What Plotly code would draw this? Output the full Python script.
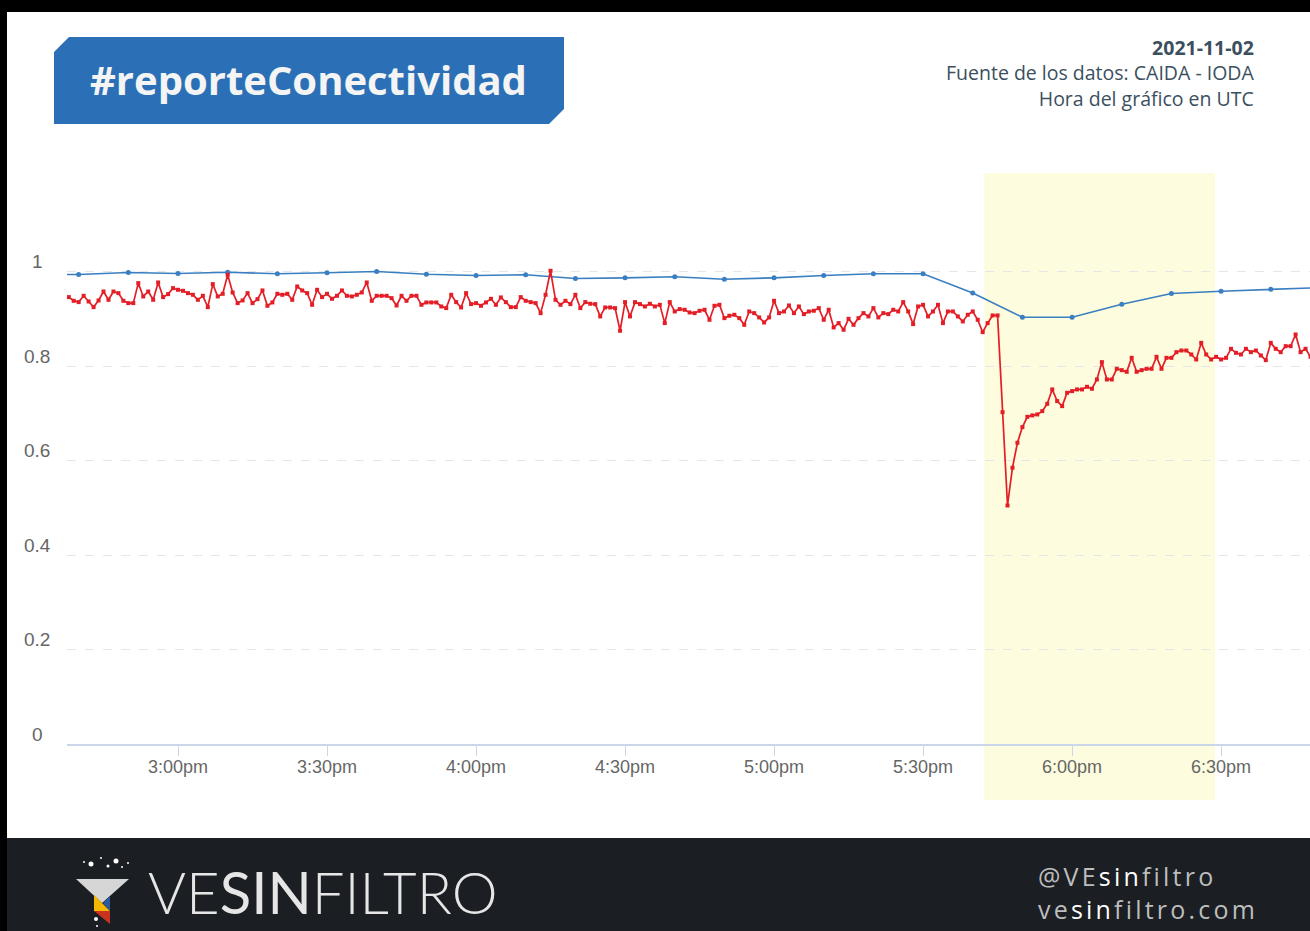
import plotly.graph_objects as go
import pandas as pd

# ---------------- data ----------------
report_date = "2021-11-02"
red_start = "2021-11-02 14:38"   # one point per minute
blue_start = "2021-11-02 14:30"  # one point every 10 minutes

red_values = [
    0.9458, 0.9380, 0.9352, 0.9486, 0.9366, 0.9246, 0.9387, 0.9577, 0.9401, 0.9577,
    0.9542, 0.9380, 0.9331, 0.9331, 0.9754, 0.9472, 0.9577, 0.9401, 0.9768, 0.9458,
    0.9521, 0.9648, 0.9613, 0.9592, 0.9542, 0.9507, 0.9401, 0.9486, 0.9246, 0.9733,
    0.9472, 0.9528, 0.9930, 0.9556, 0.9331, 0.9387, 0.9542, 0.9331, 0.9415, 0.9599,
    0.9274, 0.9345, 0.9528, 0.9507, 0.9528, 0.9401, 0.9683, 0.9599, 0.9542, 0.9295,
    0.9613, 0.9458, 0.9528, 0.9422, 0.9486, 0.9599, 0.9486, 0.9472, 0.9507, 0.9556,
    0.9768, 0.9380, 0.9486,
    0.9486, 0.9486, 0.9436, 0.9281, 0.9486, 0.9380, 0.9486, 0.9486, 0.9295, 0.9345,
    0.9345, 0.9345, 0.9260, 0.9225, 0.9507, 0.9352, 0.9239, 0.9542, 0.9310, 0.9331,
    0.9274, 0.9345, 0.9422, 0.9295, 0.9451, 0.9352, 0.9246, 0.9246, 0.9458, 0.9380,
    0.9352, 0.9331, 0.9119, 0.9507, 1.0015, 0.9401, 0.9295, 0.9380, 0.9310, 0.9507,
    0.9225, 0.9352, 0.9317, 0.9310, 0.9049, 0.9239, 0.9239, 0.9225, 0.8746, 0.9352,
    0.9049, 0.9352, 0.9310, 0.9260, 0.9317, 0.9260, 0.9295, 0.8908, 0.9352, 0.9154,
    0.9204, 0.9190, 0.9133,
    0.9119, 0.9169, 0.9190, 0.8978, 0.9274, 0.9295, 0.9013, 0.9063, 0.9084, 0.9013,
    0.8872, 0.9154, 0.9119, 0.9028, 0.8922, 0.9028, 0.9380, 0.9119, 0.9154, 0.9281,
    0.9119, 0.9260, 0.9098, 0.9154, 0.9169, 0.9225, 0.8978, 0.9190, 0.8816, 0.8908,
    0.8767, 0.8999, 0.8872, 0.9013, 0.9119, 0.9049, 0.9225, 0.9028, 0.9119, 0.9098,
    0.9190, 0.9154, 0.9352, 0.9154, 0.8887, 0.9260, 0.9295, 0.9049, 0.9154, 0.9295,
    0.8908, 0.9154, 0.9154, 0.9049, 0.8943, 0.9084, 0.9154, 0.8978, 0.8717, 0.8908,
    0.9070, 0.9070,
    0.7023, 0.5048, 0.5847, 0.6375, 0.6707, 0.6925, 0.6954, 0.6975, 0.7045, 0.7200,
    0.7504, 0.7257, 0.7151, 0.7433, 0.7468, 0.7504, 0.7504, 0.7560, 0.7518, 0.7715,
    0.8082, 0.7715, 0.7715, 0.7941, 0.7912, 0.7877, 0.8173, 0.7877, 0.7912, 0.7941,
    0.7941, 0.8194, 0.7941, 0.8173, 0.8173, 0.8293, 0.8328, 0.8328, 0.8244, 0.8138,
    0.8490, 0.8244, 0.8138, 0.8194, 0.8138, 0.8173, 0.8364, 0.8279, 0.8244, 0.8364,
    0.8293, 0.8328, 0.8223, 0.8124, 0.8490, 0.8364, 0.8293, 0.8420, 0.8420, 0.8667,
    0.8293, 0.8364, 0.8194,
]

blue_values = [
    0.9930, 0.9937, 0.9980, 0.9958, 0.9985, 0.9951, 0.9972, 1.0000, 0.9943, 0.9915,
    0.9930, 0.9852, 0.9866, 0.9888, 0.9837, 0.9866, 0.9915, 0.9951, 0.9951, 0.9545,
    0.9033, 0.9033, 0.9308, 0.9534, 0.9583, 0.9626, 0.9660,
]

x_range = ["2021-11-02 14:37:39", "2021-11-02 18:47:54"]
x_tick_values = pd.date_range("2021-11-02 15:00", "2021-11-02 18:30", freq="30min")
x_tick_labels = ["3:00pm", "3:30pm", "4:00pm", "4:30pm", "5:00pm", "5:30pm", "6:00pm", "6:30pm"]
y_tick_values = [0, 0.2, 0.4, 0.6, 0.8, 1]
y_tick_labels = ["0", "0.2", "0.4", "0.6", "0.8", "1"]
band_start = "2021-11-02 17:42:20"
band_end = "2021-11-02 18:28:48"

red_times = pd.date_range(red_start, periods=len(red_values), freq="min")
blue_times = pd.date_range(blue_start, periods=len(blue_values), freq="10min")

# ---------------- page geometry (pixels) ----------------
W, H = 1310, 931
PL, PT, PB = 67, 150, 744          # plot area: left, top, bottom
PW, PH = W - PL, PB - PT
Y_TOP = PH / 472.5


def fx(x):
    return (x - PL) / PW


def fy(y):
    return (PB - y) / PH


def poly(points):
    return "M " + " L ".join(f"{fx(x):.5f},{fy(y):.5f}" for x, y in points) + " Z"


def rect(x0, y0, x1, y1, color, layer="below"):
    return dict(type="rect", xref="paper", yref="paper", x0=fx(x0), x1=fx(x1),
                y0=fy(y1), y1=fy(y0), fillcolor=color, line=dict(width=0), layer=layer)


def circle(cx, cy, r, color="#ffffff"):
    return dict(type="circle", xref="paper", yref="paper", x0=fx(cx - r), x1=fx(cx + r),
                y0=fy(cy + r), y1=fy(cy - r), fillcolor=color, line=dict(width=0), layer="above")


fig = go.Figure()
fig.add_trace(go.Scatter(
    x=blue_times, y=blue_values, mode="lines+markers",
    line=dict(color="#3a7fc1", width=1.6),
    marker=dict(symbol="circle", size=5, color="#3a7fc1"),
    showlegend=False, hoverinfo="skip"))
fig.add_trace(go.Scatter(
    x=red_times, y=red_values, mode="lines+markers",
    line=dict(color="#e41e26", width=1.7),
    marker=dict(symbol="square", size=4, color="#e41e26"),
    showlegend=False, hoverinfo="skip"))

shapes = [
    rect(0, 0, W, 12, "#000000"),
    rect(0, 0, 7, H, "#000000"),
    rect(7, 838, W, H, "#1b1e22"),
    dict(type="rect", xref="x", yref="paper", x0=band_start, x1=band_end,
         y0=fy(800), y1=fy(173), fillcolor="#fdfcde", line=dict(width=0), layer="below"),
    dict(type="path", xref="paper", yref="paper", layer="below", line=dict(width=0),
         fillcolor="#2b70b6",
         path=poly([(54, 52), (69, 37), (564, 37), (564, 109), (549, 124), (54, 124)])),
    # logo funnel
    dict(type="path", xref="paper", yref="paper", layer="above", line=dict(width=0),
         fillcolor="#d6d6d6", path=poly([(76, 879), (129, 879), (102, 903)])),
    dict(type="path", xref="paper", yref="paper", layer="above", line=dict(width=0),
         fillcolor="#f5b800", path=poly([(94, 895), (102, 903), (110, 911), (94, 911)])),
    dict(type="path", xref="paper", yref="paper", layer="above", line=dict(width=0),
         fillcolor="#2c5aa0", path=poly([(110, 896), (110, 911), (103, 903)])),
    dict(type="path", xref="paper", yref="paper", layer="above", line=dict(width=0),
         fillcolor="#c8321f", path=poly([(94, 911), (110, 911), (110, 924)])),
    circle(84, 862, 1), circle(91, 864, 2.5), circle(101, 858, 1), circle(108, 866, 1.5),
    circle(116, 861, 2.5), circle(122, 867, 1), circle(128, 863, 1),
    circle(96, 919, 2), circle(97, 926, 1),
]

tick_font = dict(family="Liberation Sans", size=18, color="#666666")
y_font = dict(family="Liberation Sans", size=19, color="#666666")
annotations = []
for v, lab in zip(y_tick_values, y_tick_labels):
    annotations.append(dict(xref="paper", yref="y", x=fx(37), y=v, yshift=10, text=lab,
                            showarrow=False, xanchor="center", yanchor="middle", font=y_font))
for v, lab in zip(x_tick_values, x_tick_labels):
    annotations.append(dict(xref="x", yref="paper", x=v, y=fy(767), text=lab,
                            showarrow=False, xanchor="center", yanchor="middle", font=tick_font))

header_right = (f"<b>{report_date}</b><br>Fuente de los datos: CAIDA - IODA"
                "<br>Hora del gráfico en UTC")

annotations += [
    dict(xref="paper", yref="paper", x=fx(308), y=fy(80), text="#reporteConectividad",
         showarrow=False, xanchor="center", yanchor="middle",
         font=dict(family="Open Sans", size=40, color="#f4f4f4", weight=700)),
    dict(xref="paper", yref="paper", x=fx(1256), y=fy(73), text=header_right,
         showarrow=False, xanchor="right", yanchor="middle", align="right",
         font=dict(family="Open Sans", size=19.5, color="#3b4f5e")),
    dict(xref="paper", yref="paper", x=fx(146), y=fy(891),
         text='VE<span style="font-weight:400">SIN</span>FILTRO',
         showarrow=False, xanchor="left", yanchor="middle",
         font=dict(family="Lato", size=58, color="#e6e6e6", weight=300)),
    dict(xref="paper", yref="paper", x=fx(1036), y=fy(892),
         text='<span style="letter-spacing:3.2px">@VE<span style="color:#ffffff">sin</span>filtro'
              '<br>ve<span style="color:#ffffff">sin</span>filtro.com</span>',
         showarrow=False, xanchor="left", yanchor="middle", align="left",
         font=dict(family="Open Sans", size=25, color="#bdbdbd")),
]

fig.update_layout(
    width=W, height=H,
    margin=dict(l=PL, r=0, t=PT, b=H - PB, autoexpand=False),
    paper_bgcolor="#ffffff", plot_bgcolor="rgba(0,0,0,0)",
    shapes=shapes, annotations=annotations,
    xaxis=dict(type="date", range=x_range, tickvals=x_tick_values, showticklabels=False,
               showgrid=False, zeroline=False, showline=True, linecolor="#ccd6eb", linewidth=2,
               ticks="outside", ticklen=10, tickcolor="#ccd6eb", tickwidth=1,
               automargin=False, fixedrange=True),
    yaxis=dict(range=[0, Y_TOP], tickvals=y_tick_values, showticklabels=False,
               showgrid=True, gridcolor="#e6e6e6", griddash="dash", gridwidth=1,
               zeroline=False, showline=False, ticks="", automargin=False, fixedrange=True),
)

fig.write_html(
    "out.html",
    config={"displayModeBar": False, "staticPlot": True},
    post_script="document.body.style.margin='0';document.body.style.padding='0';"
                "document.body.style.background='#000';",
)
